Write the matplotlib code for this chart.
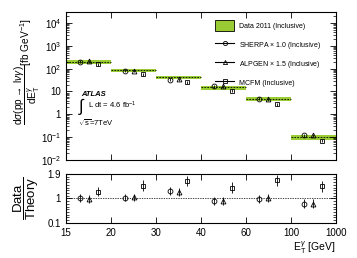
import matplotlib
matplotlib.use('Agg')
import matplotlib.pyplot as plt
import numpy as np
from matplotlib.lines import Line2D
from matplotlib.patches import Patch
from matplotlib.ticker import MultipleLocator, LogLocator, NullFormatter

plt.rcParams['font.family'] = ['Liberation Sans', 'DejaVu Sans']
plt.rcParams['mathtext.fontset'] = 'custom'
plt.rcParams['mathtext.rm'] = 'Liberation Sans'
plt.rcParams['mathtext.it'] = 'Liberation Sans:italic'
plt.rcParams['mathtext.bf'] = 'Liberation Sans:bold'

# bin edges in E_T^gamma [GeV]
edges = [15, 20, 30, 40, 60, 100, 1000]
# measured cross section per bin [fb/GeV]
data = [200, 85, 42, 15, 4.6, 0.1]
data_rel_err = [0.18, 0.18, 0.18, 0.2, 0.2, 0.25]

# data / theory ratios
sherpa_ratio = [1.0, 1.03, 1.28, 0.90, 0.97, 0.81]
sherpa_err = [0.15, 0.13, 0.15, 0.15, 0.15, 0.15]
alpgen_ratio = [0.97, 1.04, 1.25, 0.90, 1.0, 0.81]
alpgen_err = [0.15, 0.13, 0.15, 0.15, 0.15, 0.15]
mcfm_ratio = [1.25, 1.47, 1.64, 1.40, 1.67, 1.45]
mcfm_err = [0.18, 0.2, 0.2, 0.2, 0.2, 0.2]

GREEN = '#99cc33'

fig = plt.figure(figsize=(3.57, 2.58), dpi=100)
ax1 = fig.add_axes([0.185, 0.380, 0.756, 0.573])
ax2 = fig.add_axes([0.185, 0.136, 0.756, 0.190])

nbins = len(data)
data = np.array(data)
rel = np.array(data_rel_err)

# green data bands with dashed central line
for i in range(nbins):
    ax1.fill_between([i, i + 1], data[i] * (1 - rel[i]), data[i] * (1 + rel[i]),
                     color=GREEN, lw=0, zorder=1)
    ax1.plot([i, i + 1], [data[i], data[i]], ls='--', color='black', lw=0.6,
             dashes=(2, 1.5), zorder=2)

models = [
    (sherpa_ratio, sherpa_err, 'o', 0.30),
    (alpgen_ratio, alpgen_err, '^', 0.50),
    (mcfm_ratio, mcfm_err, 's', 0.70),
]
idx = np.arange(nbins)
for ratio, err, marker, off in models:
    ratio = np.array(ratio)
    err = np.array(err)
    theory = data / ratio
    ax1.errorbar(idx + off, theory, yerr=theory * 0.15, fmt=marker, ms=3.5,
                 mfc='none', mec='black', mew=0.6, ecolor='black',
                 elinewidth=0.6, capsize=0, zorder=3)
    ax2.errorbar(idx + off, ratio, yerr=err, fmt=marker, ms=3.5,
                 mfc='none', mec='black', mew=0.6, ecolor='black',
                 elinewidth=0.6, capsize=0, zorder=3)

ax1.set_yscale('log')
ax1.set_ylim(1e-2, 3e4)
ax1.set_xlim(0, nbins)
ax1.set_yticks([1e-2, 1e-1, 1, 10, 1e2, 1e3, 1e4])
ax1.set_yticklabels([r'$10^{-2}$', r'$10^{-1}$', '1', '10',
                     r'$10^{2}$', r'$10^{3}$', r'$10^{4}$'])
ax1.yaxis.set_minor_locator(LogLocator(base=10, subs=np.arange(2, 10), numticks=20))
ax1.yaxis.set_minor_formatter(NullFormatter())
ax1.set_xticks(range(nbins + 1))
ax1.set_xticklabels([])
ax1.tick_params(which='both', direction='in', top=True, right=True, labelsize=7)
ax1.tick_params(which='major', length=4, width=0.6)
ax1.tick_params(which='minor', length=2, width=0.5)

ax1.set_ylabel(r'$\dfrac{\mathrm{d}\sigma(\mathrm{pp}\rightarrow\ \mathrm{l}\nu\gamma)}{\mathrm{dE}_\mathrm{T}^{\gamma}}$[fb GeV$^{-1}$]',
               fontsize=7.3, va='center')
ax1.yaxis.set_label_coords(-0.145, 0.6)

ax1.text(0.055, 0.446, 'ATLAS', transform=ax1.transAxes, fontsize=5.5,
         fontweight='bold', fontstyle='italic', va='center')
ax1.text(0.045, 0.36, r'$\int$', transform=ax1.transAxes, fontsize=12, va='center')
ax1.text(0.081, 0.372, r'L dt = 4.6 fb$^{-1}$', transform=ax1.transAxes, fontsize=5.5,
         va='center')
ax1.text(0.044, 0.25, r'$\sqrt{\mathrm{s}}$=7TeV', transform=ax1.transAxes, fontsize=5.5,
         va='center')

handles = [
    Patch(facecolor=GREEN, edgecolor='black', lw=0.6),
    Line2D([], [], color='black', lw=0.8, marker='o', ms=3, mfc='none', mew=0.6),
    Line2D([], [], color='black', lw=0.8, marker='^', ms=3, mfc='none', mew=0.6),
    Line2D([], [], color='black', lw=0.8, marker='s', ms=3, mfc='none', mew=0.6),
]
labels = [
    'Data 2011 (Inclusive)',
    r'SHERPA $\times$ 1.0 (Inclusive)',
    r'ALPGEN $\times$ 1.5 (Inclusive)',
    'MCFM (Inclusive)',
]
ax1.legend(handles, labels, loc='upper left', bbox_to_anchor=(0.53, 0.99),
           frameon=False, fontsize=5, handlelength=2.74, handleheight=2.2,
           labelspacing=1.05, handletextpad=0.6)

# ratio panel
ax2.axhline(1, ls='--', color='black', lw=0.5, dashes=(2, 1.5), zorder=1)
ax2.set_xlim(0, nbins)
ax2.set_ylim(0.1, 1.9)
ax2.set_yticks([0.1, 1, 1.9])
ax2.set_yticklabels(['0.1', '1', '1.9'])
ax2.yaxis.set_minor_locator(MultipleLocator(0.1))
ax2.set_xticks(range(nbins + 1))
ax2.set_xticklabels([str(e) for e in edges])
ax2.tick_params(which='both', direction='in', top=True, right=True, labelsize=7)
ax2.tick_params(which='major', length=4, width=0.6)
ax2.tick_params(which='minor', length=2, width=0.5)
ax2.set_ylabel(r'$\dfrac{\mathrm{Data}}{\mathrm{Theory}}$', fontsize=9.5, va='center')
ax2.yaxis.set_label_coords(-0.145, 0.5)
ax2.set_xlabel(r'E$_\mathrm{T}^{\gamma}$ [GeV]', fontsize=7.5, loc='right', labelpad=1)

for ax in (ax1, ax2):
    for s in ax.spines.values():
        s.set_linewidth(0.8)

fig.savefig('out.png', dpi=100)
